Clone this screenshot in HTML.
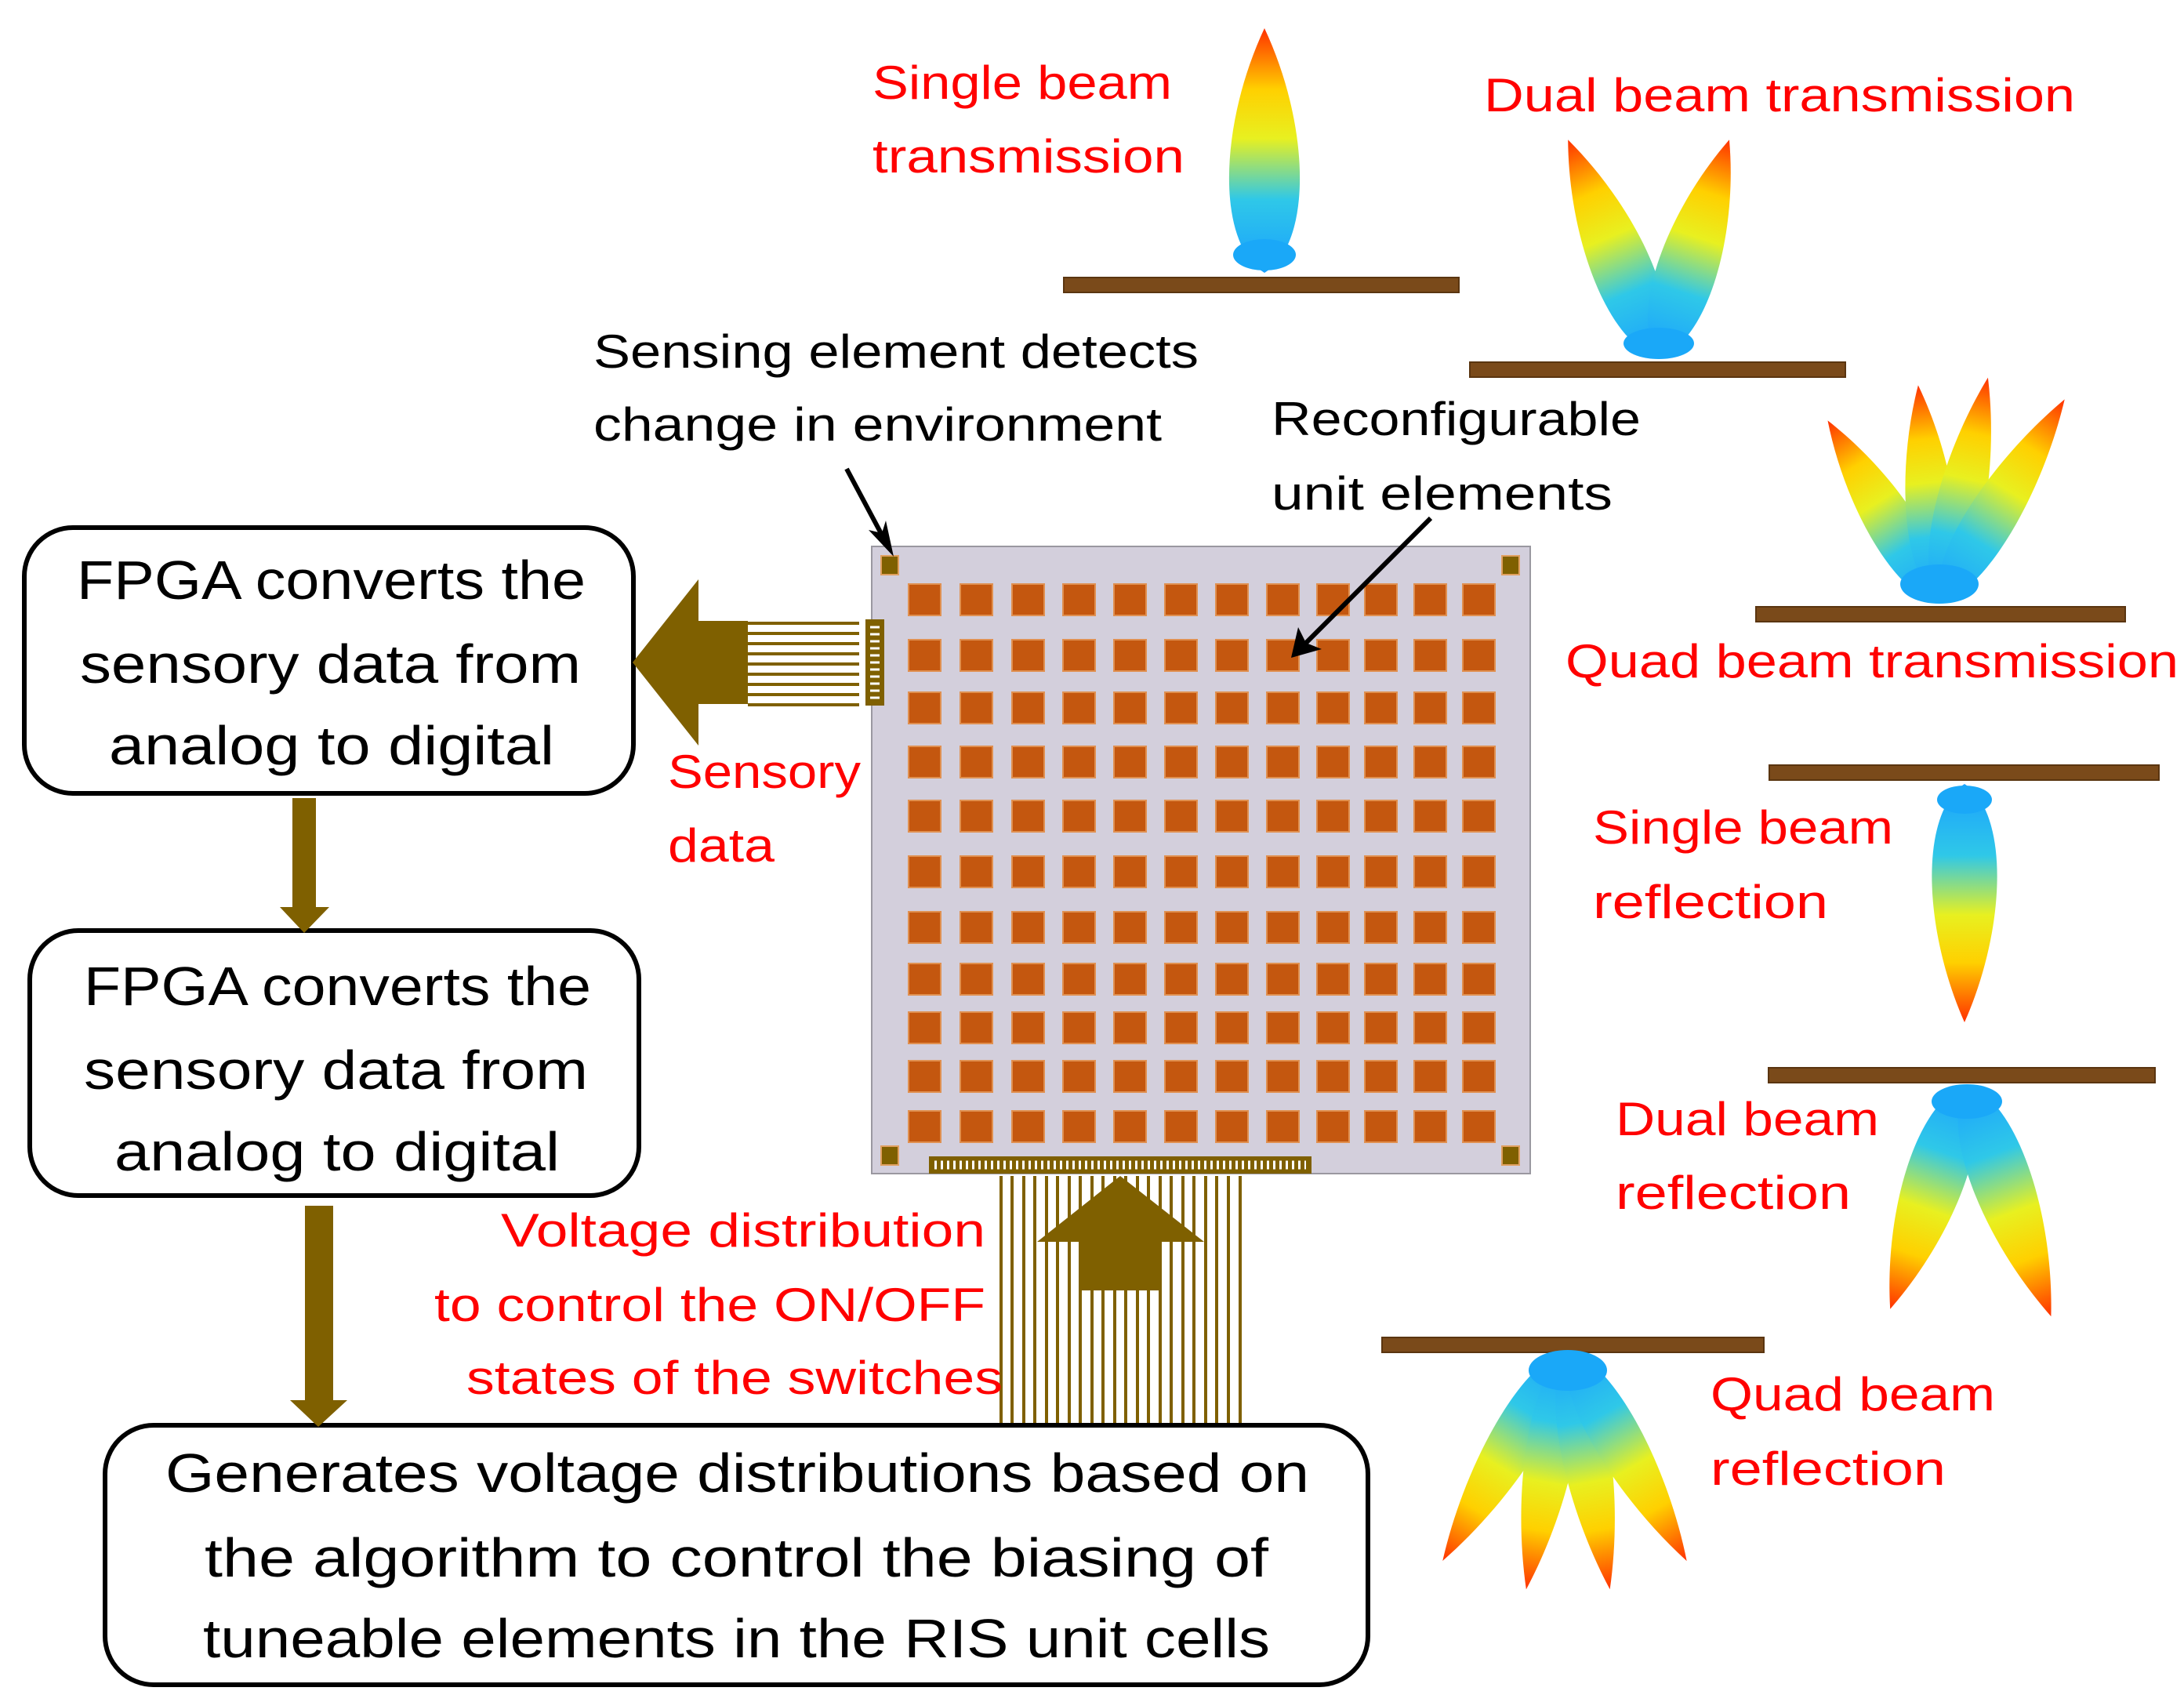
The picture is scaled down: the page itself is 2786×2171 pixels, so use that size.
<!DOCTYPE html>
<html><head><meta charset="utf-8"><style>html,body{margin:0;padding:0;background:#fff}svg{display:block}</style></head>
<body>
<svg width="2786" height="2171" viewBox="0 0 2786 2171" xmlns="http://www.w3.org/2000/svg">
<defs>
<linearGradient id="g" x1="0" y1="1" x2="0" y2="0">
<stop offset="0" stop-color="#1aa0ff"/><stop offset="0.3" stop-color="#2fc8e8"/>
<stop offset="0.55" stop-color="#e8f020"/><stop offset="0.75" stop-color="#ffd000"/>
<stop offset="1" stop-color="#ff3000"/></linearGradient>
<path id="lobe" d="M0,0 C0.95,-0.12 0.9,-0.6 0,-1 C-0.9,-0.6 -0.95,-0.12 0,0Z"/>
<g id="row" fill="#c4570f" stroke="#e09050" stroke-width="2">
<rect x="1159" y="0" width="41" height="40"/><rect x="1225" y="0" width="41" height="40"/><rect x="1291" y="0" width="41" height="40"/><rect x="1356" y="0" width="41" height="40"/><rect x="1421" y="0" width="41" height="40"/><rect x="1486" y="0" width="41" height="40"/><rect x="1551" y="0" width="41" height="40"/><rect x="1616" y="0" width="41" height="40"/><rect x="1680" y="0" width="41" height="40"/><rect x="1741" y="0" width="41" height="40"/><rect x="1804" y="0" width="41" height="40"/><rect x="1866" y="0" width="41" height="40"/>
</g>
</defs>
<style>
.t{font-family:"Liberation Sans",sans-serif;font-size:70px;fill:#000}
.b{font-family:"Liberation Sans",sans-serif;font-size:60px;fill:#000}
.r{font-family:"Liberation Sans",sans-serif;font-size:60px;fill:#ff0000}
.bar{fill:#7a4a1a;stroke:#5a3510;stroke-width:2}
</style>

<rect x="31" y="673" width="777" height="339" rx="62" fill="#fff" stroke="#000" stroke-width="6"/>
<rect x="38" y="1187" width="777" height="338" rx="62" fill="#fff" stroke="#000" stroke-width="6"/>
<rect x="134" y="1818" width="1611" height="331" rx="62" fill="#fff" stroke="#000" stroke-width="6"/>

<text class="t" x="98" y="764" textLength="649" lengthAdjust="spacingAndGlyphs">FPGA converts the</text>
<text class="t" x="102" y="871" textLength="639" lengthAdjust="spacingAndGlyphs">sensory data from</text>
<text class="t" x="139" y="975" textLength="568" lengthAdjust="spacingAndGlyphs">analog to digital</text>
<text class="t" x="107" y="1282" textLength="647" lengthAdjust="spacingAndGlyphs">FPGA converts the</text>
<text class="t" x="107" y="1389" textLength="643" lengthAdjust="spacingAndGlyphs">sensory data from</text>
<text class="t" x="146" y="1493" textLength="568" lengthAdjust="spacingAndGlyphs">analog to digital</text>
<text class="t" x="211" y="1903" textLength="1459" lengthAdjust="spacingAndGlyphs">Generates voltage distributions based on</text>
<text class="t" x="261" y="2011" textLength="1357" lengthAdjust="spacingAndGlyphs">the algorithm to control the biasing of</text>
<text class="t" x="259" y="2114" textLength="1361" lengthAdjust="spacingAndGlyphs">tuneable elements in the RIS unit cells</text>

<polygon points="373,1018 403,1018 403,1157 420,1157 388,1190 357,1157 373,1157" fill="#7f6000"/>
<polygon points="389,1538 425,1538 425,1786 443,1786 406,1820 370,1786 389,1786" fill="#7f6000"/>

<polygon points="807,845 891,739 891,792 954,792 954,898 891,898 891,951" fill="#7f6000"/>
<g stroke="#7f6000" stroke-width="4">
<line x1="954" y1="795" x2="1096" y2="795"/><line x1="954" y1="808" x2="1096" y2="808"/>
<line x1="954" y1="821" x2="1096" y2="821"/><line x1="954" y1="834" x2="1096" y2="834"/>
<line x1="954" y1="847" x2="1096" y2="847"/><line x1="954" y1="860" x2="1096" y2="860"/>
<line x1="954" y1="873" x2="1096" y2="873"/><line x1="954" y1="886" x2="1096" y2="886"/>
<line x1="954" y1="899" x2="1096" y2="899"/>
</g>

<rect x="1112" y="697" width="840" height="800" fill="#d3cfdc" stroke="#9a98a0" stroke-width="2"/>
<use href="#row" y="745"/><use href="#row" y="816"/><use href="#row" y="883"/><use href="#row" y="952"/><use href="#row" y="1021"/><use href="#row" y="1092"/><use href="#row" y="1163"/><use href="#row" y="1229"/><use href="#row" y="1291"/><use href="#row" y="1353"/><use href="#row" y="1417"/>
<g fill="#7f6000" stroke="#e0a060" stroke-width="2">
<rect x="1124" y="709" width="22" height="24"/><rect x="1916" y="709" width="22" height="24"/>
<rect x="1124" y="1462" width="22" height="24"/><rect x="1916" y="1462" width="22" height="24"/>
</g>
<rect x="1104" y="790" width="24" height="110" fill="#7f6000"/>
<g stroke="#fff" stroke-width="3"><line x1="1110" y1="800" x2="1122" y2="800"/><line x1="1110" y1="809" x2="1122" y2="809"/><line x1="1110" y1="818" x2="1122" y2="818"/><line x1="1110" y1="827" x2="1122" y2="827"/><line x1="1110" y1="836" x2="1122" y2="836"/><line x1="1110" y1="845" x2="1122" y2="845"/><line x1="1110" y1="854" x2="1122" y2="854"/><line x1="1110" y1="863" x2="1122" y2="863"/><line x1="1110" y1="872" x2="1122" y2="872"/><line x1="1110" y1="881" x2="1122" y2="881"/><line x1="1110" y1="890" x2="1122" y2="890"/></g>
<rect x="1185" y="1475" width="488" height="22" fill="#7f6000"/>
<line x1="1192" y1="1486" x2="1666" y2="1486" stroke="#fff" stroke-width="11" stroke-dasharray="3 5"/>
<g stroke="#7f6000" stroke-width="4">
<line x1="1277" y1="1500" x2="1277" y2="1815"/><line x1="1291" y1="1500" x2="1291" y2="1815"/><line x1="1306" y1="1500" x2="1306" y2="1815"/><line x1="1320" y1="1500" x2="1320" y2="1815"/><line x1="1335" y1="1500" x2="1335" y2="1815"/><line x1="1349" y1="1500" x2="1349" y2="1815"/><line x1="1364" y1="1500" x2="1364" y2="1815"/><line x1="1378" y1="1500" x2="1378" y2="1815"/><line x1="1393" y1="1500" x2="1393" y2="1815"/><line x1="1407" y1="1500" x2="1407" y2="1815"/><line x1="1422" y1="1500" x2="1422" y2="1815"/><line x1="1436" y1="1500" x2="1436" y2="1815"/><line x1="1451" y1="1500" x2="1451" y2="1815"/><line x1="1465" y1="1500" x2="1465" y2="1815"/><line x1="1480" y1="1500" x2="1480" y2="1815"/><line x1="1494" y1="1500" x2="1494" y2="1815"/><line x1="1509" y1="1500" x2="1509" y2="1815"/><line x1="1523" y1="1500" x2="1523" y2="1815"/><line x1="1538" y1="1500" x2="1538" y2="1815"/><line x1="1552" y1="1500" x2="1552" y2="1815"/><line x1="1567" y1="1500" x2="1567" y2="1815"/><line x1="1582" y1="1500" x2="1582" y2="1815"/>
</g>
<polygon points="1429,1500 1536,1584 1482,1584 1482,1646 1376,1646 1376,1584 1323,1584" fill="#7f6000"/>

<line x1="1080" y1="598" x2="1128" y2="688" stroke="#000" stroke-width="6"/>
<polygon points="1140,710 1108,676 1125,680 1130,664" fill="#000"/>
<line x1="1825" y1="661" x2="1665" y2="821" stroke="#000" stroke-width="6"/>
<polygon points="1647,839 1656,800 1666,820 1686,828" fill="#000"/>

<text class="b" x="757" y="469" textLength="772" lengthAdjust="spacingAndGlyphs">Sensing element detects</text>
<text class="b" x="757" y="562" textLength="725" lengthAdjust="spacingAndGlyphs">change in environment</text>
<text class="b" x="1622" y="555" textLength="471" lengthAdjust="spacingAndGlyphs">Reconfigurable</text>
<text class="b" x="1622" y="650" textLength="435" lengthAdjust="spacingAndGlyphs">unit elements</text>

<text class="r" x="1113" y="126" textLength="382" lengthAdjust="spacingAndGlyphs">Single beam</text>
<text class="r" x="1113" y="220" textLength="398" lengthAdjust="spacingAndGlyphs">transmission</text>
<text class="r" x="1893" y="142" textLength="754" lengthAdjust="spacingAndGlyphs">Dual beam transmission</text>
<text class="r" x="1997" y="864" textLength="782" lengthAdjust="spacingAndGlyphs">Quad beam transmission</text>
<text class="r" x="852" y="1005" textLength="246" lengthAdjust="spacingAndGlyphs">Sensory</text>
<text class="r" x="852" y="1099" textLength="136" lengthAdjust="spacingAndGlyphs">data</text>
<text class="r" x="2032" y="1076" textLength="383" lengthAdjust="spacingAndGlyphs">Single beam</text>
<text class="r" x="2032" y="1171" textLength="300" lengthAdjust="spacingAndGlyphs">reflection</text>
<text class="r" x="2061" y="1448" textLength="336" lengthAdjust="spacingAndGlyphs">Dual beam</text>
<text class="r" x="2061" y="1542" textLength="300" lengthAdjust="spacingAndGlyphs">reflection</text>
<text class="r" x="2182" y="1799" textLength="363" lengthAdjust="spacingAndGlyphs">Quad beam</text>
<text class="r" x="2182" y="1894" textLength="300" lengthAdjust="spacingAndGlyphs">reflection</text>
<text class="r" x="639" y="1590" textLength="618" lengthAdjust="spacingAndGlyphs">Voltage distribution</text>
<text class="r" x="554" y="1685" textLength="703" lengthAdjust="spacingAndGlyphs">to control the ON/OFF</text>
<text class="r" x="595" y="1778" textLength="684" lengthAdjust="spacingAndGlyphs">states of the switches</text>

<rect class="bar" x="1357" y="354" width="504" height="19"/>
<rect class="bar" x="1875" y="462" width="479" height="19"/>
<rect class="bar" x="2240" y="774" width="471" height="19"/>
<rect class="bar" x="2257" y="976" width="497" height="19"/>
<rect class="bar" x="2256" y="1362" width="493" height="19"/>
<rect class="bar" x="1763" y="1706" width="487" height="19"/>

<g fill="url(#g)">
<use href="#lobe" transform="translate(1613,348) scale(65,312)"/>
<ellipse cx="1613" cy="325" rx="40" ry="20" fill="#1aa8f8"/>

<use href="#lobe" transform="translate(2116,455) rotate(-22.7) scale(55,300)"/>
<use href="#lobe" transform="translate(2116,455) rotate(18) scale(55,291)"/>
<ellipse cx="2116" cy="438" rx="45" ry="20" fill="#1aa8f8"/>

<use href="#lobe" transform="translate(2474,768) rotate(-31.6) scale(45,272)"/>
<use href="#lobe" transform="translate(2474,768) rotate(-5.6) scale(45,278)"/>
<use href="#lobe" transform="translate(2474,768) rotate(12.2) scale(45,293)"/>
<use href="#lobe" transform="translate(2474,768) rotate(31.7) scale(45,304)"/>
<ellipse cx="2474" cy="745" rx="50" ry="25" fill="#1aa8f8"/>

<use href="#lobe" transform="translate(2506,1000) rotate(180) scale(60,304)"/>
<ellipse cx="2506" cy="1020" rx="35" ry="18" fill="#1aa8f8"/>

<use href="#lobe" transform="translate(2509,1384) rotate(-161.1) scale(55,302)"/>
<use href="#lobe" transform="translate(2509,1384) rotate(160) scale(55,314)"/>
<ellipse cx="2509" cy="1405" rx="45" ry="22" fill="#1aa8f8"/>

<use href="#lobe" transform="translate(2000,1723) rotate(-149.2) scale(45,312)"/>
<use href="#lobe" transform="translate(2000,1723) rotate(-170.1) scale(45,309)"/>
<use href="#lobe" transform="translate(2000,1723) rotate(170) scale(45,309)"/>
<use href="#lobe" transform="translate(2000,1723) rotate(150.5) scale(45,308)"/>
<ellipse cx="2000" cy="1748" rx="50" ry="26" fill="#1aa8f8"/>
</g>
</svg>
</body></html>
